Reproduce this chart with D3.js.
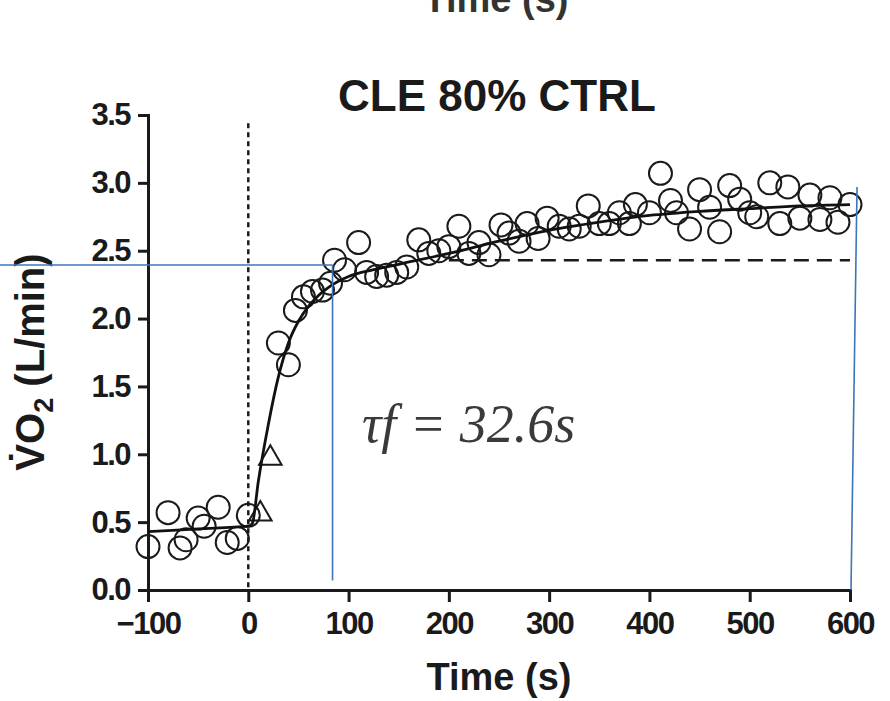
<!DOCTYPE html>
<html>
<head>
<meta charset="utf-8">
<title>CLE 80% CTRL</title>
<script src="https://d3js.org/d3.v7.min.js"></script>
<style>
  body { margin: 0; background: #fff; }
  svg text { font-family: "Liberation Sans", Arial, sans-serif; fill: #1a1a1a; }
  .axis path, .axis line { stroke: #1a1a1a; stroke-width: 3px; }
  .axis text { font-size: 31px; font-weight: bold; letter-spacing: -1.5px; }
</style>
</head>
<body>
<script>
  // baseline (pre-exercise) breaths
  var baseTime = [-100, -80, -68, -62, -50, -44, -30, -21, -11, 0];
  var baseVO2  = [0.32, 0.57, 0.31, 0.37, 0.53, 0.47, 0.61, 0.35, 0.38, 0.55];

  // phase I points (triangles)
  var phase1Time = [12, 22];
  var phase1VO2  = [0.56, 0.97];

  // exercise breaths
  var exTime = [30, 40, 47, 55, 64, 74, 82, 86, 96, 110, 118, 128, 138, 148, 158, 170, 180, 190, 200, 210,
                220, 230, 240, 252, 260, 270, 278, 289, 298, 310, 320, 330, 339, 350, 360, 370, 380, 386,
                400, 411, 421, 427, 440, 450, 460, 470, 480, 490, 500, 507, 520, 530, 538, 550, 560, 570,
                580, 588, 600];
  var exVO2  = [1.82, 1.66, 2.06, 2.16, 2.20, 2.21, 2.26, 2.43, 2.36, 2.56, 2.34, 2.31, 2.32, 2.34, 2.38,
                2.58, 2.48, 2.50, 2.53, 2.68, 2.48, 2.56, 2.47, 2.69, 2.63, 2.57, 2.70, 2.59, 2.74, 2.68,
                2.66, 2.68, 2.83, 2.70, 2.70, 2.78, 2.70, 2.84, 2.78, 3.07, 2.87, 2.78, 2.66, 2.95, 2.82,
                2.64, 2.98, 2.88, 2.78, 2.75, 3.00, 2.70, 2.97, 2.74, 2.91, 2.73, 2.89, 2.71, 2.84];

  // model fit
  var fitTime = [-100, -50, 0, 4, 10, 20, 30, 40, 50, 60, 70, 80, 100, 125, 150, 200, 250, 300, 350, 400, 450, 500, 550, 600];
  var fitVO2  = [0.43, 0.45, 0.47, 0.49, 0.80, 1.22, 1.57, 1.82, 1.98, 2.09, 2.17, 2.23, 2.31, 2.36, 2.40, 2.48, 2.57, 2.65, 2.71, 2.76, 2.79, 2.81, 2.83, 2.84];

  // primary amplitude asymptote (dashed)
  var asymTime = [200, 600];
  var asymVO2  = 2.43;

  var xTicks = [-100, 0, 100, 200, 300, 400, 500, 600];
  var yTicks = [0, 0.5, 1, 1.5, 2, 2.5, 3, 3.5];

  // blue marker lines drawn on top of the figure
  var blueLines = [
    [[-248, 2.395], [84, 2.395]],
    [[84, 2.395], [84, 0.07]],
    [[607, 2.97], [601, 0.0]]
  ];

  var svg = d3.select("body").append("svg")
      .attr("width", 890)
      .attr("height", 701);

  var x = d3.scaleLinear().domain([-100, 600]).range([148, 850]);
  var y = d3.scaleLinear().domain([0, 3.5]).range([590, 115]);

  // title and cut-off label from the panel above
  svg.append("text")
      .attr("x", 496).attr("y", 12)
      .attr("text-anchor", "middle")
      .style("font-size", "38px").style("font-weight", "bold")
      .style("fill", "#333")
      .text("Time (s)");

  svg.append("text")
      .attr("x", 497).attr("y", 111)
      .attr("text-anchor", "middle")
      .style("font-size", "44px").style("font-weight", "bold")
      .text("CLE 80% CTRL");

  // dotted line at exercise onset
  svg.append("line")
      .attr("x1", x(0)).attr("x2", x(0))
      .attr("y1", y(3.44)).attr("y2", y(0))
      .style("stroke", "#1a1a1a").style("stroke-width", 2.5)
      .style("stroke-dasharray", "5,4");

  // dashed asymptote
  svg.append("line")
      .attr("x1", x(asymTime[0])).attr("x2", x(asymTime[1]))
      .attr("y1", y(asymVO2)).attr("y2", y(asymVO2))
      .style("stroke", "#1a1a1a").style("stroke-width", 2.5)
      .style("stroke-dasharray", "15,8");

  // axes
  svg.append("g")
      .attr("class", "axis")
      .attr("transform", "translate(0," + y(0) + ")")
      .call(d3.axisBottom(x).tickValues(xTicks).tickSize(12).tickSizeOuter(0).tickPadding(10).tickFormat(d3.format("d")));

  svg.append("g")
      .attr("class", "axis")
      .attr("transform", "translate(" + x(-100) + ",0)")
      .call(d3.axisLeft(y).tickValues(yTicks).tickSize(10).tickSizeOuter(0).tickPadding(8).tickFormat(d3.format(".1f")));

  svg.selectAll(".axis .domain").style("stroke-linecap", "square");

  // axis titles
  svg.append("text")
      .attr("x", 499).attr("y", 690)
      .attr("text-anchor", "middle")
      .style("font-size", "38px").style("font-weight", "bold")
      .text("Time (s)");

  var yt = svg.append("text")
      .attr("transform", "translate(44,362) rotate(-90)")
      .attr("text-anchor", "middle")
      .style("font-size", "40px").style("font-weight", "bold");
  yt.append("tspan").text("V\u0307O");
  yt.append("tspan").attr("dy", 9).style("font-size", "27px").text("2");
  yt.append("tspan").attr("dy", -9).text(" (L/min)");

  // data points
  var pts = baseTime.map(function(t, i) { return [t, baseVO2[i]]; })
      .concat(exTime.map(function(t, i) { return [t, exVO2[i]]; }));

  svg.append("g").selectAll("circle")
      .data(pts)
    .enter().append("circle")
      .attr("cx", function(d) { return x(d[0]); })
      .attr("cy", function(d) { return y(d[1]); })
      .attr("r", 11.5)
      .style("fill", "none")
      .style("stroke", "#1a1a1a")
      .style("stroke-width", 2);

  var tri = d3.symbol().type(d3.symbolTriangle).size(220);
  svg.append("g").selectAll("path")
      .data(phase1Time)
    .enter().append("path")
      .attr("d", tri)
      .attr("transform", function(d, i) { return "translate(" + x(d) + "," + y(phase1VO2[i]) + ")"; })
      .style("fill", "none")
      .style("stroke", "#1a1a1a")
      .style("stroke-width", 2);

  // fit line
  var line = d3.line()
      .x(function(d, i) { return x(fitTime[i]); })
      .y(function(d) { return y(d); })
      .curve(d3.curveMonotoneX);

  svg.append("path")
      .datum(fitVO2)
      .attr("d", line)
      .style("fill", "none")
      .style("stroke", "#111")
      .style("stroke-width", 2.8);

  // tau annotation
  svg.append("text")
      .attr("x", 362).attr("y", 442)
      .style("font-family", "'Liberation Serif', 'Times New Roman', serif")
      .style("font-style", "italic")
      .style("font-size", "54px")
      .style("fill", "#3a3a3a")
      .text("\u03C4f = 32.6s");

  // blue overlay lines
  svg.append("g").selectAll("line")
      .data(blueLines)
    .enter().append("line")
      .attr("x1", function(d) { return x(d[0][0]); })
      .attr("y1", function(d) { return y(d[0][1]); })
      .attr("x2", function(d) { return x(d[1][0]); })
      .attr("y2", function(d) { return y(d[1][1]); })
      .style("stroke", "#3f74b9")
      .style("stroke-width", 1.6);
</script>
</body>
</html>
